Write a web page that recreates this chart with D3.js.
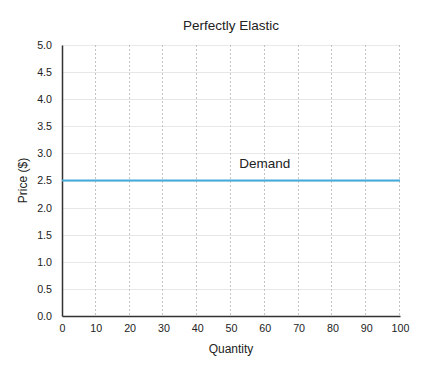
<!DOCTYPE html>
<html>
<head>
<meta charset="utf-8">
<script src="https://cdn.jsdelivr.net/npm/d3@7"></script>
<style>
body { margin: 0; background: #fff; }
svg text { font-family: "Liberation Sans", Arial, sans-serif; fill: #222; }
</style>
</head>
<body>
<svg id="chart" width="426" height="372"></svg>
<script>
// chart data
var quantity = [0, 100];
var price = [2.5, 2.5];
var xTicks = [0, 10, 20, 30, 40, 50, 60, 70, 80, 90, 100];
var yTicks = [0, 0.5, 1, 1.5, 2, 2.5, 3, 3.5, 4, 4.5, 5];
var lineLabel = "Demand";
var labelAt = [60, 2.5];

var svg = d3.select("#chart");
var margin = {left: 62, right: 26, top: 45, bottom: 56};
var w = 426 - margin.left - margin.right,
    h = 372 - margin.top - margin.bottom;

var x = d3.scaleLinear().domain([0, 100]).range([0, w]);
var y = d3.scaleLinear().domain([0, 5]).range([h, 0]);

var g = svg.append("g").attr("transform", "translate(" + margin.left + "," + margin.top + ")");

// horizontal grid
g.selectAll("line.hgrid").data(yTicks.slice(1)).enter().append("line")
    .attr("class", "hgrid")
    .attr("x1", 0).attr("x2", w)
    .attr("y1", function(d){ return Math.round(y(d)) + 0.5; })
    .attr("y2", function(d){ return Math.round(y(d)) + 0.5; })
    .style("stroke", "#e8e8e8").style("stroke-width", 1);

// vertical grid (dotted)
g.selectAll("line.vgrid").data(xTicks.slice(1)).enter().append("line")
    .attr("class", "vgrid")
    .attr("x1", function(d){ return Math.round(x(d)) - 0.5; })
    .attr("x2", function(d){ return Math.round(x(d)) - 0.5; })
    .attr("y1", 0).attr("y2", h)
    .style("stroke", "#c4c4c4").style("stroke-width", 1).style("stroke-dasharray", "2,2");

var xAxis = g.append("g").attr("transform", "translate(0," + h + ")")
    .call(d3.axisBottom(x).tickValues(xTicks).tickSize(0).tickPadding(8));
var yAxis = g.append("g")
    .call(d3.axisLeft(y).tickValues(yTicks).tickSize(0).tickPadding(10).tickFormat(d3.format(".1f")));

[xAxis, yAxis].forEach(function(a){
    a.select(".domain").style("stroke", "#333").style("stroke-width", 1.5);
    a.selectAll("text").style("font-size", "10.7px").style("fill", "#222");
});

// demand line
var line = d3.line().x(function(d){ return x(d[0]); }).y(function(d){ return y(d[1]); });
g.append("path")
    .datum(quantity.map(function(q, i){ return [q, price[i]]; }))
    .attr("d", line)
    .style("fill", "none").style("stroke", "#45aadc").style("stroke-width", 2.2);

g.append("text")
    .attr("x", x(labelAt[0])).attr("y", y(labelAt[1]) - 13)
    .attr("text-anchor", "middle")
    .style("font-size", "13.5px")
    .text(lineLabel);

// titles
svg.append("text")
    .attr("x", margin.left + w / 2).attr("y", 30)
    .attr("text-anchor", "middle").style("font-size", "13.5px")
    .text("Perfectly Elastic");

svg.append("text")
    .attr("x", margin.left + w / 2).attr("y", 353)
    .attr("text-anchor", "middle").style("font-size", "12px")
    .text("Quantity");

svg.append("text")
    .attr("transform", "translate(27," + (margin.top + h / 2) + ") rotate(-90)")
    .attr("text-anchor", "middle").style("font-size", "12px")
    .text("Price ($)");
</script>
</body>
</html>
